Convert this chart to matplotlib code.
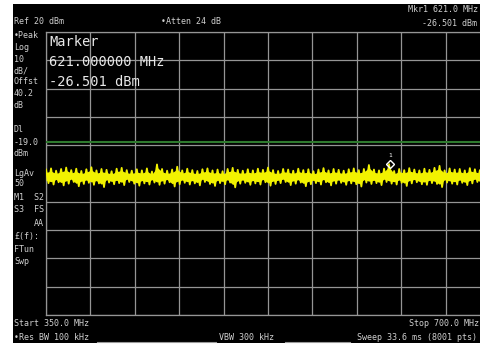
import numpy as np
import matplotlib
matplotlib.use("Agg")
import matplotlib.pyplot as plt
from matplotlib.patches import Rectangle

# ---- data ----
start_mhz = 350.0
stop_mhz = 700.0
ref_level = 20.0          # dBm
db_per_div = 10.0
display_line = -19.0      # dBm
marker_freq = 621.0       # MHz
marker_level = -26.501    # dBm

# upper / lower envelope of the noise trace (dBm), evenly spaced over the sweep
trace_upper = [
    -28.6, -28.2, -29.0, -28.4, -27.9, -28.8, -28.3, -29.1, -28.5, -27.8,
    -28.9, -28.4, -28.7, -29.2, -28.3, -28.0, -28.8, -29.0, -28.5, -28.9,
    -28.2, -29.3, -26.8, -28.4, -29.0, -28.6, -27.6, -28.9, -28.3, -28.8,
    -29.1, -28.5, -28.2, -28.9, -28.6, -29.2, -28.4, -28.0, -28.7, -29.0,
    -28.5, -28.9, -28.3, -28.7, -27.9, -28.8, -29.1, -28.4, -28.6, -29.0,
    -28.3, -28.8, -28.5, -29.2, -28.6, -28.1, -28.9, -28.4, -28.7, -29.0,
    -28.5, -28.2, -28.8, -28.4, -27.0, -28.6, -28.9, -28.3, -26.7, -29.1,
    -28.4, -28.8, -28.1, -28.6, -28.9, -28.3, -28.7, -28.0, -27.3, -28.9,
    -28.2, -28.6, -28.4, -28.9, -28.1, -28.5, -28.8, -28.3, -28.6]
trace_lower = [
    -33.4, -33.9, -33.1, -34.2, -33.6, -33.0, -34.5, -33.7, -33.3, -34.0,
    -33.5, -34.8, -33.2, -33.8, -33.4, -34.1, -33.0, -33.6, -34.3, -33.5,
    -33.9, -33.2, -34.0, -33.6, -33.1, -34.6, -33.8, -33.3, -33.9, -33.5,
    -34.2, -33.0, -33.7, -34.4, -33.4, -33.8, -33.2, -34.9, -33.6, -33.3,
    -34.0, -33.5, -33.9, -33.1, -34.3, -33.7, -33.4, -33.0, -34.1, -33.6,
    -33.2, -34.5, -33.8, -33.4, -33.9, -33.1, -34.2, -33.6, -33.3, -34.0,
    -33.5, -33.8, -34.6, -33.2, -33.7, -33.4, -34.1, -33.0, -33.6, -33.9,
    -33.3, -34.4, -33.5, -33.1, -33.8, -34.0, -33.4, -33.7, -34.8, -33.2,
    -33.6, -33.9, -33.3, -34.1, -33.5, -33.0, -33.8, -33.4, -34.2]

left_labels = [("\u2022Peak", 35), ("Log", 47), ("10", 59), ("dB/", 71),
               ("Offst", 82), ("40.2", 94), ("dB", 105),
               ("Dl", 130), ("-19.0", 142), ("dBm", 153),
               ("LgAv", 173), ("50", 184), ("M1  S2", 198), ("S3  FS", 210),
               ("\u00a3(f):", 236), ("FTun", 249), ("Swp", 262)]

# ---- figure ----
W, H = 481, 347
fig = plt.figure(figsize=(W / 100, H / 100), dpi=100, facecolor="white")

def fx(x):
    return x / W

def fy(y):
    return 1 - y / H

# black screen area
fig.patches.append(Rectangle((fx(13), fy(343)), fx(481) - fx(13), fy(4) - fy(343),
                             transform=fig.transFigure, facecolor="black",
                             edgecolor="none", zorder=-5))

gx0, gx1, gy0, gy1 = 46, 490, 32, 315
ax = fig.add_axes([fx(gx0), fy(gy1), fx(gx1) - fx(gx0), fy(gy0) - fy(gy1)])
ax.set_zorder(1)
ax.set_facecolor("black")
ax.set_xlim(start_mhz, stop_mhz)
ax.set_ylim(ref_level - 10 * db_per_div, ref_level)
ax.set_xticks(np.linspace(start_mhz, stop_mhz, 11))
ax.set_yticks(np.arange(ref_level - 10 * db_per_div, ref_level + 1, db_per_div))
ax.grid(True, color="#959595", lw=0.9)
ax.set_axisbelow(True)
ax.tick_params(length=0, labelbottom=False, labelleft=False)
for s in ax.spines.values():
    s.set_color("#959595")
    s.set_linewidth(0.9)

ax.axhline(display_line, color="#2f7a2f", lw=1.5, zorder=3)

# noise trace drawn as a dense zig-zag between the two envelopes
n = len(trace_upper)
freq = np.linspace(start_mhz, stop_mhz, n)
half = (freq[1] - freq[0]) / 2
zig_x = np.empty(2 * n)
zig_y = np.empty(2 * n)
zig_x[0::2] = freq
zig_x[1::2] = freq + half
zig_y[0::2] = trace_upper
zig_y[1::2] = trace_lower
ax.fill_between(freq, np.array(trace_lower) + 1.0, np.array(trace_upper) - 1.0,
                color="#f2f200", lw=0, zorder=4)
ax.plot(zig_x, zig_y, color="#f2f200", lw=1.3, zorder=4)

# marker
ax.plot([marker_freq], [marker_level], marker="D", ms=4, mfc="none",
        mec="white", mew=1.0, zorder=6)
ax.text(marker_freq, marker_level + 2.8, "1", color="white", fontsize=4.5,
        ha="center", va="center", family="DejaVu Sans Mono", zorder=6)

small = dict(family="DejaVu Sans Mono", fontsize=6, color="#cfcfcf", va="center",
             zorder=5)
big = dict(family="DejaVu Sans Mono", fontsize=9.8, color="#e8e8e8", va="center",
           zorder=5)

fig.text(fx(14), fy(22), "Ref 20 dBm", **small)
fig.text(fx(161), fy(22), "\u2022Atten 24 dB", **small)
fig.text(fx(408), fy(9), "Mkr1 621.0 MHz", **small)
fig.text(fx(422), fy(23), "-26.501 dBm", **small)

for txt, y in left_labels:
    fig.text(fx(14), fy(y), txt, **small)
fig.text(fx(44), fy(223), "AA", ha="right", **small)

fig.text(fx(49), fy(42), "Marker", **big)
fig.text(fx(49), fy(62), "621.000000 MHz", **big)
fig.text(fx(49), fy(82), "-26.501 dBm", **big)

fig.text(fx(14), fy(323), "Start 350.0 MHz", **small)
fig.text(fx(409), fy(323), "Stop 700.0 MHz", **small)
fig.text(fx(14), fy(337), "\u2022Res BW 100 kHz", **small)
fig.text(fx(219), fy(337), "VBW 300 kHz", **small)
fig.text(fx(357), fy(337), "Sweep 33.6 ms (8001 pts)", **small)

for xa, xb in [(97, 216), (285, 350)]:
    fig.add_artist(plt.Line2D([fx(xa), fx(xb)], [fy(342), fy(342)],
                              transform=fig.transFigure, color="#9a9a9a", lw=0.8))

fig.savefig("out.png", dpi=100, facecolor="white")
